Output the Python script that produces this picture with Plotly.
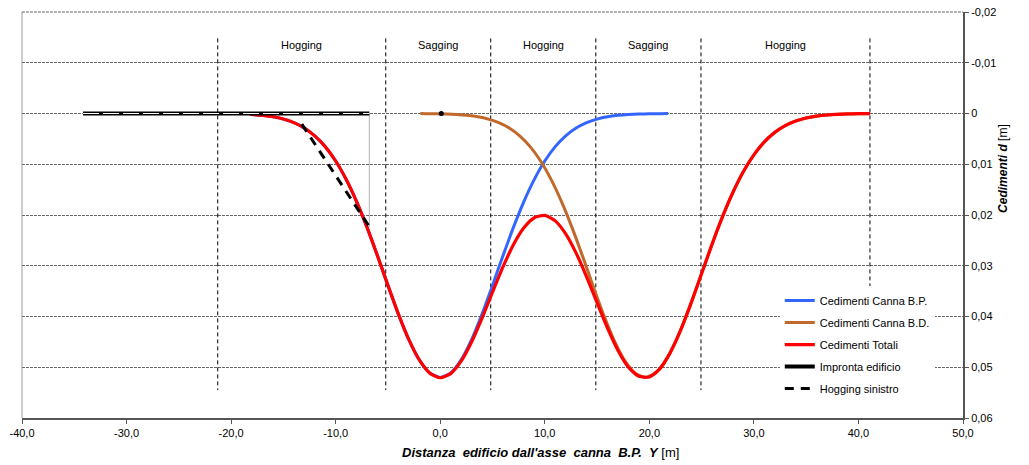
import plotly.graph_objects as go

# ---------------- data ----------------
BP_X = [-18.2, -18, -17, -16, -15, -14, -13, -12, -11, -10, -9, -8, -7, -6, -5, -4, -3, -2, -1,
        0, 1, 2, 3, 4, 5, 6, 7, 8, 9, 10, 11, 12, 13, 14, 15, 16, 17, 18, 19, 20, 21, 21.8]
BP_Y = [0.00018, 0.000201, 0.000366, 0.000645, 0.00110, 0.00180, 0.00287, 0.00440, 0.00653, 0.00936,
        0.01297, 0.01735, 0.02244, 0.02805, 0.03387, 0.03953, 0.04457, 0.04855, 0.05112,
        0.05200, 0.05112, 0.04855, 0.04457, 0.03953, 0.03387, 0.02805, 0.02244, 0.01735, 0.01297,
        0.00936, 0.00653, 0.00440, 0.00287, 0.00180, 0.00110, 0.000645, 0.000366, 0.000201,
        0.000107, 0.0000546, 0.000027, 0.000015]

BD_X = [-1.9, -1.4, -0.4, 0.6, 1.6, 2.6, 3.6, 4.6, 5.6, 6.6, 7.6, 8.6, 9.6, 10.6, 11.6, 12.6,
        13.6, 14.6, 15.6, 16.6, 17.6, 18.6, 19.6, 20.6, 21.6, 22.6, 23.6, 24.6, 25.6, 26.6, 27.6,
        28.6, 29.6, 30.6, 31.6, 32.6, 33.6, 34.6, 35.6, 36.6, 37.6, 38.6, 39.6, 40.6, 41.1]
BD_Y = [0.0000188, 0.000027, 0.0000546, 0.000107, 0.000201, 0.000366, 0.000645, 0.00110, 0.00180,
        0.00287, 0.00440, 0.00653, 0.00936, 0.01297, 0.01735, 0.02244, 0.02805, 0.03387, 0.03953,
        0.04457, 0.04855, 0.05112, 0.05200, 0.05112, 0.04855, 0.04457, 0.03953, 0.03387, 0.02805,
        0.02244, 0.01735, 0.01297, 0.00936, 0.00653, 0.00440, 0.00287, 0.00180, 0.00110, 0.000645,
        0.000366, 0.000201, 0.000107, 0.0000546, 0.000027, 0.0000155]

TOT_X = [-18.2, -18, -17, -16, -15, -14, -13, -12, -11, -10, -9, -8, -7, -6, -5, -4, -3, -2, -1,
         0, 1, 2, 3, 4, 5, 6, 7, 8, 9, 10, 11, 12, 13, 14, 15, 16, 17, 18, 19, 20, 21, 22, 23,
         24, 25, 26, 27, 28, 29, 30, 31, 32, 33, 34, 35, 36, 37, 38, 39, 40, 41.1]
TOT_Y = [0.00018, 0.000201, 0.000366, 0.000645, 0.00110, 0.00180, 0.00287, 0.00440, 0.00653,
         0.00936, 0.01297, 0.01735, 0.02244, 0.02805, 0.03387, 0.03953, 0.04457, 0.04857, 0.05116,
         0.05207, 0.05126, 0.04881, 0.04503, 0.04033, 0.03521, 0.03023, 0.02586, 0.02253, 0.02054,
         0.02007, 0.02116, 0.02371, 0.02751, 0.03217, 0.03728, 0.04229, 0.04668, 0.04997, 0.05179,
         0.05191, 0.05031, 0.04712, 0.04265, 0.03731, 0.03154, 0.02576, 0.02033, 0.01551, 0.01143,
         0.00814, 0.00560, 0.00372, 0.00239, 0.00149, 0.000891, 0.000516, 0.000289, 0.000157,
         0.0000818, 0.0000414, 0.0000155]

FOOT_X = [-34.16, -6.78]
FOOT_Y = [0.0, 0.0]

HOG_X = [-13.24, -6.78]
HOG_Y = [0.0021, 0.0223]

DOT_X = [0.1]
DOT_Y = [0.0]

ZONE_BOUNDS = [-21.28, -5.21, 4.83, 14.88, 24.94, 41.1]
ZONE_LABELS = ["Hogging", "Sagging", "Hogging", "Sagging", "Hogging"]
ZONE_Y_RANGE = [-0.0148, 0.0545]
ZONE_LABEL_Y = -0.0135

X_TICKS = [-40, -30, -20, -10, 0, 10, 20, 30, 40, 50]
X_TICKTEXT = ["-40,0", "-30,0", "-20,0", "-10,0", "0,0", "10,0", "20,0", "30,0", "40,0", "50,0"]
Y_TICKS = [-0.02, -0.01, 0, 0.01, 0.02, 0.03, 0.04, 0.05, 0.06]
Y_TICKTEXT = ["-0,02", "-0,01", "0", "0,01", "0,02", "0,03", "0,04", "0,05", "0,06"]

# ---------------- figure ----------------
fig = go.Figure()

# zone boundaries (vertical dashed)
for xb in ZONE_BOUNDS:
    fig.add_trace(go.Scatter(x=[xb, xb], y=ZONE_Y_RANGE, mode="lines",
                             line=dict(color="black", width=1, dash="4px,3px"),
                             showlegend=False, hoverinfo="skip"))

fig.add_trace(go.Scatter(x=BP_X, y=BP_Y, mode="lines", name="Cedimenti Canna B.P.",
                         line=dict(color="#3366FF", width=3, shape="spline", smoothing=0.6),
                         legendgroup="a"))
fig.add_trace(go.Scatter(x=BD_X, y=BD_Y, mode="lines", name="Cedimenti Canna B.D.",
                         line=dict(color="#C0692B", width=3, shape="spline", smoothing=0.6),
                         legendgroup="b"))
fig.add_trace(go.Scatter(x=TOT_X, y=TOT_Y, mode="lines", name="Cedimenti Totali",
                         line=dict(color="#FF0000", width=3.2, shape="spline", smoothing=0.6),
                         legendgroup="c"))

# footprint drop line (thin dotted)
fig.add_trace(go.Scatter(x=[FOOT_X[-1], FOOT_X[-1]], y=[FOOT_Y[-1], HOG_Y[-1]], mode="lines",
                         line=dict(color="#666666", width=1, dash="1px,1px"),
                         showlegend=False, hoverinfo="skip"))
fig.add_trace(go.Scatter(x=FOOT_X, y=FOOT_Y, mode="lines", name="Impronta edificio",
                         line=dict(color="black", width=4), legendgroup="d"))
fig.add_trace(go.Scatter(x=FOOT_X, y=FOOT_Y, mode="lines", name="Impronta edificio",
                         line=dict(color="white", width=1, dash="16px,4px"),
                         legendgroup="d", showlegend=False, hoverinfo="skip"))
fig.add_trace(go.Scatter(x=HOG_X, y=HOG_Y, mode="lines", name="Hogging sinistro",
                         line=dict(color="black", width=3, dash="9px,7px"), legendgroup="e"))
fig.add_trace(go.Scatter(x=DOT_X, y=DOT_Y, mode="markers",
                         marker=dict(color="black", size=5), showlegend=False, hoverinfo="skip"))

# zone labels
for i, lab in enumerate(ZONE_LABELS):
    fig.add_annotation(x=(ZONE_BOUNDS[i] + ZONE_BOUNDS[i + 1]) / 2, y=ZONE_LABEL_Y, text=lab,
                       showarrow=False, font=dict(family="Liberation Sans, Arial", size=11, color="black"),
                       xref="x", yref="y")

# axis titles as annotations
fig.add_annotation(xref="paper", yref="paper", x=0.5505, y=-0.086, xanchor="center", yanchor="middle",
                   text="<b><i>Distanza\u00a0\u00a0edificio dall'asse\u00a0\u00a0canna\u00a0\u00a0B.P.\u00a0\u00a0Y</i></b> [m]",
                   showarrow=False,
                   font=dict(family="Liberation Sans Narrow, Arial Narrow, Liberation Sans", size=13, color="black"))
fig.add_annotation(xref="paper", yref="paper", x=1.0425, y=0.616, xanchor="center", yanchor="middle",
                   text="<b><i>Cedimenti d</i></b> [m]", textangle=-90, showarrow=False,
                   font=dict(family="Liberation Sans, Arial", size=12, color="black"))

# left border (thin grey) and top border (dashed)
fig.add_shape(type="line", xref="paper", yref="paper", x0=0, x1=0, y0=0, y1=1,
              line=dict(color="#999999", width=1))
fig.add_shape(type="line", xref="paper", yref="paper", x0=0, x1=1, y0=1, y1=1,
              line=dict(color="#666666", width=1, dash="3px,1px"))

fig.update_layout(
    width=1029, height=465,
    margin=dict(l=22, r=66, t=12, b=47, autoexpand=False),
    paper_bgcolor="white", plot_bgcolor="white",
    font=dict(family="Liberation Sans, Arial", size=11, color="black"),
    showlegend=True,
    legend=dict(x=0.8053, y=0.325, xanchor="left", yanchor="top", bgcolor="white",
                font=dict(family="Liberation Sans, Arial", size=11, color="black"),
                traceorder="grouped", tracegroupgap=3, itemwidth=30),
    xaxis=dict(range=[-40, 50], tickvals=X_TICKS, ticktext=X_TICKTEXT, automargin=False,
               showgrid=False, zeroline=False, showline=True, linecolor="#555555", linewidth=2,
               ticks="outside", ticklen=4, tickcolor="#555555",
               tickfont=dict(family="Liberation Sans Narrow, Arial Narrow, Liberation Sans", size=11, color="black")),
    yaxis=dict(range=[0.06, -0.02], tickvals=Y_TICKS, ticktext=Y_TICKTEXT, side="right", automargin=False,
               showgrid=True, gridcolor="#666666", griddash="3px,1px", gridwidth=1,
               zeroline=False, showline=True, linecolor="#555555", linewidth=2,
               ticks="outside", ticklen=4, tickcolor="#555555",
               tickfont=dict(family="Liberation Sans, Arial", size=11, color="black")),
)

fig.write_html("out.html", config={"displayModeBar": False},
               post_script="document.body.style.margin='0';document.body.style.overflow='hidden';")
